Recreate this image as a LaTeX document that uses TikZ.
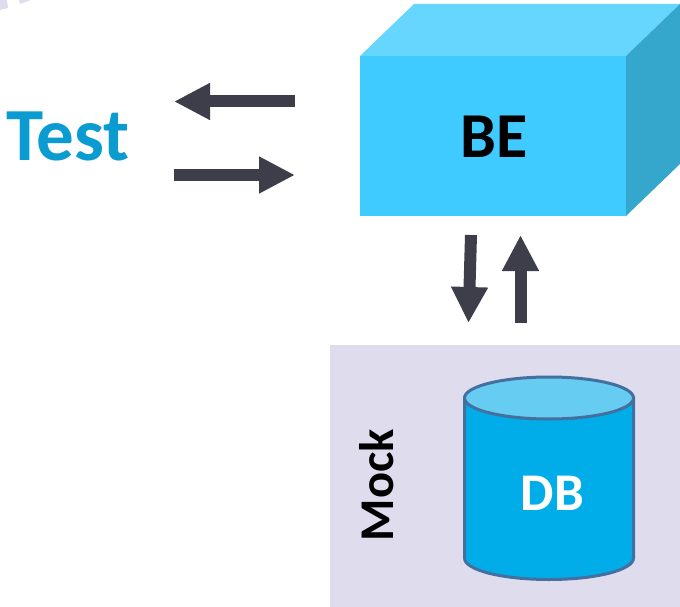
\documentclass[tikz,border=0pt]{standalone}
\usepackage{fontspec}
\setmainfont{Carlito}
\usetikzlibrary{arrows.meta}
\definecolor{arrowc}{HTML}{3E3D4A}
\definecolor{mockc}{HTML}{DFDCEE}
\definecolor{frontc}{HTML}{3FCBFF}
\definecolor{topc}{HTML}{66D6FF}
\definecolor{sidec}{HTML}{35A6CC}
\definecolor{bodyc}{HTML}{00ADE8}
\definecolor{capc}{HTML}{66CCF2}
\definecolor{edgec}{HTML}{44709F}
\definecolor{testc}{HTML}{0A9BD0}
\tikzset{
  x=1pt,y=-1pt,
  blockarrow/.style={draw=arrowc,line width=12pt,line cap=butt,
    -{Triangle[length=#1,width=34.5pt,fill=arrowc]}},
  label/.style={font=\bfseries,inner sep=0pt,anchor=center},
  cyl/.style={draw=edgec,line width=3pt}
}
\begin{document}
\begin{tikzpicture}
\useasboundingbox (0,0) rectangle (680,607);
% faint fragments at the top-left corner
\fill[mockc] (0,0) -- (7,0) -- (8,8) -- (0,10) -- cycle;
\fill[mockc] (19,0) -- (31,0) -- (20,4) -- cycle;
% BE box
\fill[topc] (360,56) -- (414,4) -- (680,4) -- (626,56) -- cycle;
\fill[sidec] (626,56) -- (680,4) -- (680,164) -- (626,216) -- cycle;
\fill[frontc] (360,56) rectangle (626,216);
\node[label,font=\bfseries\fontsize{64}{64}\selectfont,text=black] (be) at (494,137) {BE};
% Mock panel
\fill[mockc] (330,345) rectangle (680,607);
\node[label,font=\bfseries\fontsize{48.5}{48.5}\selectfont,text=black,rotate=90] (mock) at (377,485) {Mock};
% DB cylinder
\draw[cyl,fill=bodyc] (464.5,398) -- (464.5,558) .. controls (464.5,570) and (502,579.5) .. (549,579.5) .. controls (596,579.5) and (633.5,570) .. (633.5,558) -- (633.5,398) -- cycle;
\draw[cyl,fill=capc] (549,398) ellipse[x radius=84.5,y radius=21];
\node[label,font=\bfseries\fontsize{53}{53}\selectfont,text=white] (db) at (552.5,493) {DB};
% Test
\node[label,font=\bfseries\fontsize{75}{75}\selectfont,text=testc] (test) at (68,136) {Test};
% arrows
\coordinate (a1s) at (295,101.5); \coordinate (a1e) at (174,101.5);
\coordinate (a2s) at (174,175); \coordinate (a2e) at (295,175);
\coordinate (a3s) at (471,235); \coordinate (a3e) at (468.5,323);
\coordinate (a4s) at (520.5,323); \coordinate (a4e) at (520.5,235);
\draw[blockarrow=36pt] (a1s) -- (a1e);
\draw[blockarrow=36pt] (a2s) -- (a2e);
\draw[blockarrow=36pt] (a3s) -- (a3e);
\draw[blockarrow=36pt] (a4s) -- (a4e);
\end{tikzpicture}
\end{document}
